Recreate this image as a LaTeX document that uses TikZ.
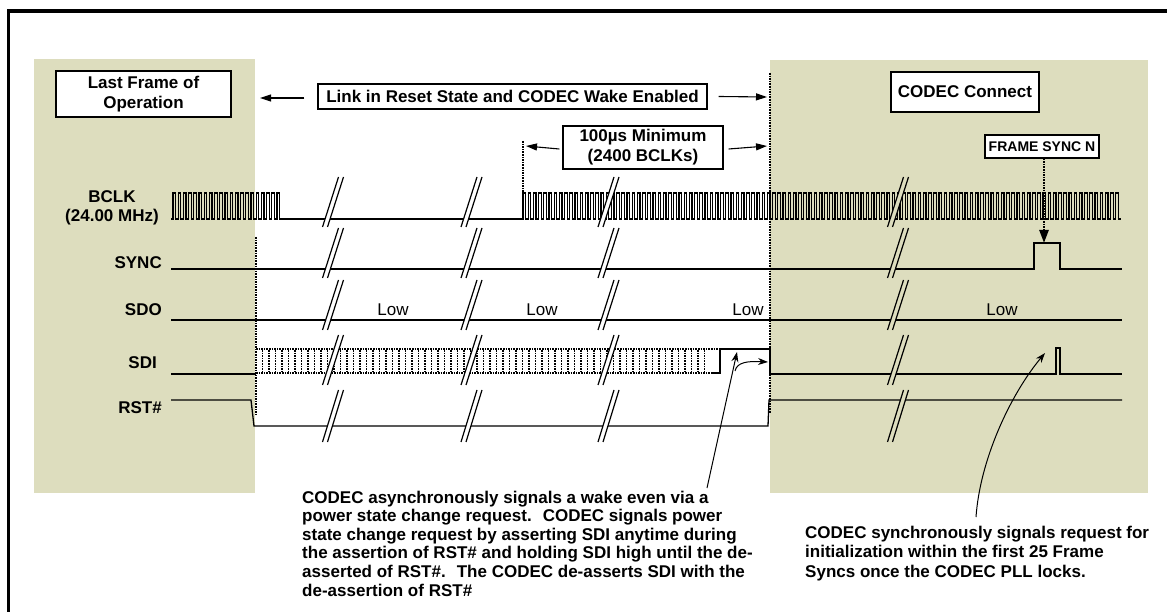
\documentclass[tikz,border=0pt]{standalone}
\usepackage{fontspec}
\setmainfont{Liberation Sans}
\usetikzlibrary{arrows.meta}
\definecolor{bgkhaki}{RGB}{221,221,190}
\newcommand{\brkmark}[4]{%
  \fill[#4] (#1-10.5,#3) -- (#1+5.5,#2) -- (#1+10.5,#2) -- (#1-5.5,#3) -- cycle;
  \draw[line width=1.2pt] (#1-10.5,#3) -- (#1+5.5,#2) (#1-5.5,#3) -- (#1+10.5,#2);}
\begin{document}
\begin{tikzpicture}[x=1pt,y=-1pt,
  sig/.style={line width=1.3pt, line join=miter},
  clk/.style={line width=1.1pt},
  dots/.style={line width=2.4pt, dash pattern=on 1.6pt off 1.0pt},
  hdots/.style={line width=1.9pt, dash pattern=on 1.6pt off 1.0pt},
  lbl/.style={font=\fontsize{17}{19}\selectfont\bfseries, inner sep=0pt},
  boxn/.style={draw, line width=1.3pt, fill=white, font=\fontsize{17}{20}\selectfont\bfseries, align=center, inner sep=0pt},
  lowt/.style={font=\fontsize{17}{19}\selectfont, inner sep=0pt},
  arr/.style={line width=1.1pt, -{Triangle[length=11pt,width=7pt]}},
  ann/.style={line width=1pt, -{Stealth[length=10pt,width=7pt]}},
]
\useasboundingbox (0,0) rectangle (1167,612);
\clip (0,0) rectangle (1167,612);
\fill[white] (0,0) rectangle (1167,612);
% frame
\draw[line width=3.5pt] (8.5,11) rectangle (1300,800);
% shaded regions
\fill[bgkhaki] (34,59) rectangle (255,493);
\fill[bgkhaki] (770,60) rectangle (1148,493);

% BCLK
\draw[clk] (171,219) -- (173,219) \foreach \i in {1,...,21}{ -- ++(0,-26) -- ++(2.6,0) -- ++(0,26) -- ++(2.6,0)} -- (523,219)
  \foreach \i in {1,...,115}{ -- ++(0,-26) -- ++(2.6,0) -- ++(0,26) -- ++(2.6,0)};
% SYNC
\draw[sig] (171,269) -- (1034,269) -- (1034,243) -- (1060,243) -- (1060,269) -- (1122,269);
% SDO
\draw[sig] (171,320) -- (1122,320);
% SDI
\draw[sig] (171,374) -- (256,374);
\draw[dots] (256,349) -- (720,349);
\draw[dots] (256,373) -- (712,373);
\foreach \x in {262.5,269,...,710} \draw[hdots] (\x,350) -- (\x,372);
\draw[sig] (712,373) -- (720,373) -- (720,349) -- (770,349) -- (770,374) -- (1056,374) -- (1056,348) -- (1060,348) -- (1060,374) -- (1122,374);
% RST#
\draw[sig] (171,400) -- (251,400) -- (254,426) -- (768,426) -- (769,400) -- (1122,400);

% break marks
\foreach \cx/\cc in {333/white,471.5/white,608.5/white,898/bgkhaki}{
  \foreach \yt/\yb in {177/227,228/278,280/330,335/385,390/442}{
    \brkmark{\cx}{\yt}{\yb}{\cc}}}

% dotted verticals
\draw[dots] (256,237) -- (256,415);
\draw[dots] (770,73) -- (770,413);
\draw[dots] (523,141) -- (523,217);

% boxes
\node[boxn, minimum width=175pt, minimum height=46pt] (lastf) at (143.5,94) {Last Frame of\\Operation};
\node[boxn, minimum width=389pt, minimum height=25pt] (link) at (512.5,96.5) {Link in Reset State and CODEC Wake Enabled};
\node[boxn, minimum width=160pt, minimum height=43pt] (minb) at (643,147.5) {100µs Minimum\\(2400 BCLKs)};
\node[boxn, minimum width=148pt, minimum height=40pt] (conn) at (965,92) {CODEC Connect};
\node[boxn, minimum width=114pt, minimum height=23pt, font=\fontsize{14}{16}\selectfont\bfseries] (fsync) at (1042,146.5) {FRAME SYNC N};

% arrows
\coordinate (la) at (260,98);
\coordinate (ra) at (767,97);
\coordinate (ml) at (526,146);
\coordinate (mr) at (767,146);
\coordinate (fs) at (1044,243);
\draw[arr] ([xshift=-13pt,yshift=-1.5pt]link.west) -- (la);
\draw[arr] ([xshift=11pt]link.east) -- (ra);
\draw[arr] ([xshift=-3pt,yshift=-1.5pt]minb.west) -- (ml);
\draw[arr] ([xshift=5pt,yshift=-1.5pt]minb.east) -- (mr);
\draw[dots, -{Triangle[length=13pt,width=9pt]}] ([xshift=2pt]fsync.south) -- (fs);

% labels
\node[lbl, align=center] (bclk) at (112,208) {BCLK\\(24.00 MHz)};
\node[lbl, anchor=east] (sync) at (162,263) {SYNC};
\node[lbl, anchor=east] (sdo) at (162,310) {SDO};
\node[lbl, anchor=east] (sdi) at (157,363) {SDI};
\node[lbl, anchor=east] (rst) at (162,408) {RST\#};
\node[lowt] (low1) at (393,310) {Low};
\node[lowt] (low2) at (542,310) {Low};
\node[lowt] (low3) at (748,310) {Low};
\node[lowt] (low4) at (1002,310) {Low};

% notes
\node[lbl, align=left, anchor=north west, font=\fontsize{17}{18.6}\selectfont\bfseries] (noteL) at (302,490.5) {CODEC asynchronously signals a wake even via a\\power state change request.~ CODEC signals power\\state change request by asserting SDI anytime during\\the assertion of RST\# and holding SDI high until the de-\\asserted of RST\#.~ The CODEC de-asserts SDI with the\\de-assertion of RST\#};
\node[lbl, align=left, anchor=north west, font=\fontsize{17}{19.5}\selectfont\bfseries] (noteR) at (805,525.5) {CODEC synchronously signals request for\\initialization within the first 25 Frame\\Syncs once the CODEC PLL locks.};

\coordinate (nl) at (707,488);
\coordinate (nr) at (976,517);
\draw[ann] (nl) -- (737,352);
\draw[ann] (735,371) .. controls (737,362) and (748,361) .. (768,362);
\draw[ann] (nr) .. controls (980,460) and (1010,395) .. (1045,353);
\end{tikzpicture}
\end{document}
